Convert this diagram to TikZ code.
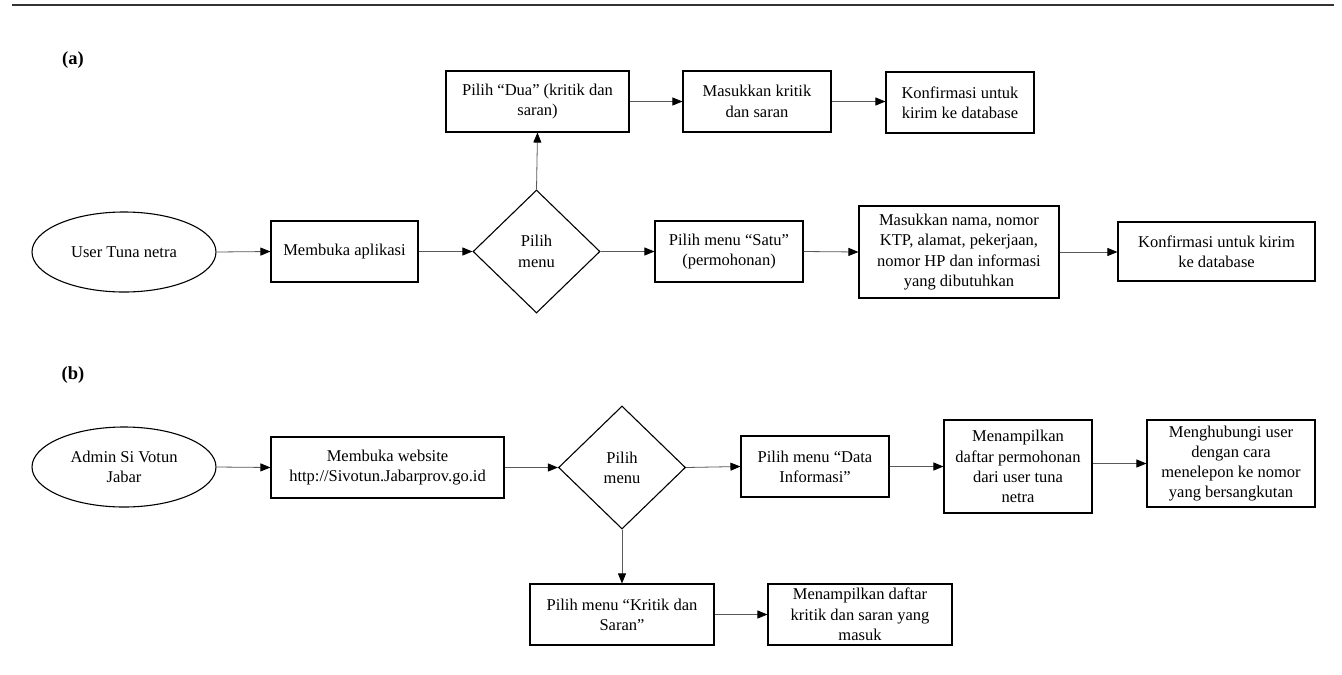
\documentclass[tikz,border=0pt]{standalone}
\usepackage{fontspec}
\setmainfont{Liberation Serif}
\usetikzlibrary{shapes.geometric,arrows.meta}
\begin{document}
\begin{tikzpicture}[x=1pt,y=-1pt,
  every node/.style={font=\fontsize{16.5}{20.3}\selectfont},
  box/.style={draw, line width=1.1pt, align=center, inner sep=1pt},
  term/.style={draw, ellipse, line width=1.1pt, align=center, minimum width=184, minimum height=80, inner sep=0pt},
  dec/.style={draw, diamond, line width=1.1pt, align=center, minimum width=127, minimum height=123, inner sep=0pt},
  arr/.style={-{Triangle[length=10pt,width=8pt,color=black]}, line width=0.8pt, draw=black!65},
  lbl/.style={font=\fontsize{18.5}{22}\selectfont\bfseries}
]
\useasboundingbox (0,0) rectangle (1342,675);
\draw[line width=2.5pt, black!80] (12,5) -- (1334,5);

\node[lbl] (la) at (73,60) {(a)};
\node[lbl] (lb) at (73,375) {(b)};

% (a)
\node[term] (u1) at (124,252) {User Tuna netra};
\node[box, minimum width=147, minimum height=61] (a1) at (344.5,251.5) {Membuka aplikasi};
\node[dec] (d1) at (536.5,251.5) {Pilih\\menu};
\node[box, minimum width=183, minimum height=61] (a2) at (537.5,101.5) {Pilih “Dua” (kritik dan\\saran)};
\node[box, minimum width=148, minimum height=61] (a3) at (757,101.5) {Masukkan kritik\\dan saran};
\node[box, minimum width=148, minimum height=61] (a4) at (960,102.5) {Konfirmasi untuk\\kirim ke database};
\node[box, minimum width=148, minimum height=61] (a5) at (729,251.5) {Pilih menu “Satu”\\(permohonan)};
\node[box, minimum width=200, minimum height=92] (a6) at (959,252) {Masukkan nama, nomor\\KTP, alamat, pekerjaan,\\nomor HP dan informasi\\yang dibutuhkan};
\node[box, minimum width=197, minimum height=59] (a7) at (1216.5,251.5) {Konfirmasi untuk kirim\\ke database};

\draw[arr] (u1.east) -- (a1.west);
\draw[arr] (a1.east) -- (d1.west);
\draw[arr] (d1.east) -- (a5.west);
\draw[arr] (a5.east) -- (a6.west);
\draw[arr] (a6.east) -- (a6.east -| a7.west);
\draw[arr] (d1.north) -- (a2.south);
\draw[arr] (a2.east) -- (a3.west);
\draw[arr] (a3.east) -- (a3.east -| a4.west);

% (b)
\node[term] (u2) at (124,467) {Admin Si Votun\\Jabar};
\node[box, minimum width=233, minimum height=61] (b1) at (387.5,467.5) {Membuka website\\http://Sivotun.Jabarprov.go.id};
\node[dec] (d2) at (622,467.5) {Pilih\\menu};
\node[box, minimum width=148, minimum height=61] (b2) at (815,466.5) {Pilih menu “Data\\Informasi”};
\node[box, minimum width=148, minimum height=93] (b3) at (1018,466.5) {Menampilkan\\daftar permohonan\\dari user tuna\\netra};
\node[box, minimum width=168, minimum height=87] (b4) at (1231,463.5) {Menghubungi user\\dengan cara\\menelepon ke nomor\\yang bersangkutan};
\node[box, minimum width=184, minimum height=61] (b5) at (622,614.5) {Pilih menu “Kritik dan\\Saran”};
\node[box, minimum width=184, minimum height=61] (b6) at (860,614.5) {Menampilkan daftar\\kritik dan saran yang\\masuk};

\draw[arr] (u2.east) -- (b1.west);
\draw[arr] (b1.east) -- (d2.west);
\draw[arr] (d2.east) -- (b2.west);
\draw[arr] (b2.east) -- (b3.west);
\draw[arr] (b3.east |- b4.west) -- (b4.west);
\draw[arr] (d2.south) -- (b5.north);
\draw[arr] (b5.east) -- (b6.west);
\end{tikzpicture}
\end{document}
